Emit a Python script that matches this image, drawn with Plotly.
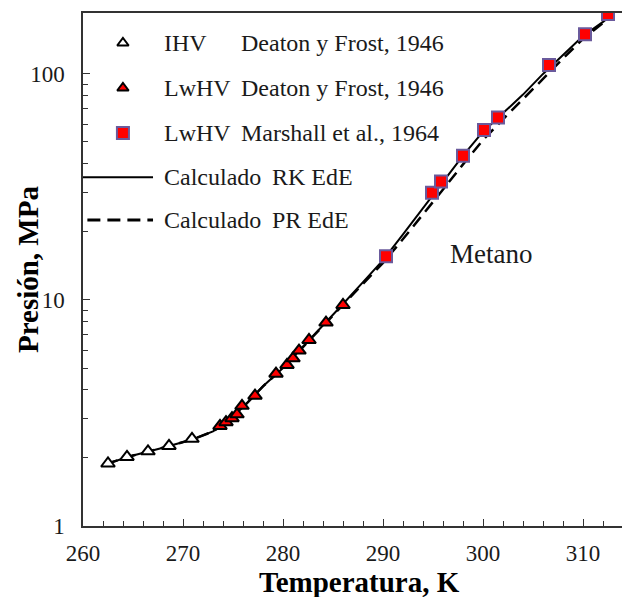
import plotly.graph_objects as go

# ---- data ----
ihv_T = [262.5, 264.4, 266.5, 268.6, 270.9]
ihv_P = [1.89, 2.02, 2.14, 2.26, 2.43]

lwhv_df_T = [273.7, 274.3, 274.9, 275.4, 275.9, 277.2, 279.3, 280.4, 281.0, 281.6, 282.6, 284.3, 286.0]
lwhv_df_P = [2.77, 2.88, 3.00, 3.12, 3.40, 3.77, 4.72, 5.16, 5.52, 5.97, 6.65, 7.94, 9.5]

lwhv_m_T = [290.3, 294.9, 295.8, 298.0, 300.1, 301.5, 306.6, 310.2, 312.5]
lwhv_m_P = [15.6, 29.8, 33.4, 43.5, 56.5, 64.1, 109.6, 149.9, 184.0]

rk_T = [262.3, 265, 268, 271, 273, 274, 276, 278, 280, 282, 284, 286, 288, 290, 292, 294, 296, 298, 300, 302, 304, 306, 308, 310, 312, 312.6]
rk_P = [1.88, 2.05, 2.22, 2.42, 2.62, 2.80, 3.35, 4.15, 5.0, 6.2, 7.7, 9.6, 12.0, 15.0, 19.5, 25.5, 33.5, 43.5, 55.5, 67.0, 81.0, 100.0, 121.0, 147.0, 170.0, 178.0]

pr_T = [262.3, 265, 268, 271, 273, 274, 276, 278, 280, 282, 284, 286, 288, 290, 292, 294, 296, 298, 300, 302, 304, 306, 308, 310, 312, 312.6]
pr_P = [1.88, 2.05, 2.22, 2.42, 2.62, 2.80, 3.35, 4.15, 5.0, 6.2, 7.7, 9.5, 11.8, 14.6, 18.6, 23.8, 30.8, 39.8, 51.0, 63.0, 77.0, 95.0, 117.0, 143.0, 168.0, 176.0]

x_ticks = [260, 270, 280, 290, 300, 310]
x_minor = [262, 264, 266, 268, 272, 274, 276, 278, 282, 284, 286, 288,
           292, 294, 296, 298, 302, 304, 306, 308, 312, 314]
y_ticks = [1, 10, 100]
y_minor = [2, 3, 4, 5, 6, 7, 8, 9, 20, 30, 40, 50, 60, 70, 80, 90]

legend_rows = [
    ("IHV", "Deaton y Frost, 1946"),
    ("LwHV", "Deaton y Frost, 1946"),
    ("LwHV", "Marshall et al., 1964"),
    ("Calculado", "RK EdE"),
    ("Calculado", "PR EdE"),
]

FONT = "Liberation Serif"
RED = "#FF0000"
SQ_EDGE = "#6A5A9C"
TXT = "#1a1a1a"

fig = go.Figure()

fig.add_trace(go.Scatter(x=rk_T, y=rk_P, mode="lines",
                         line=dict(color="black", width=2), showlegend=False))
fig.add_trace(go.Scatter(x=pr_T, y=pr_P, mode="lines",
                         line=dict(color="black", width=2.5, dash="12px,7px"), showlegend=False))
fig.add_trace(go.Scatter(x=ihv_T, y=ihv_P, mode="markers",
                         marker=dict(symbol="triangle-up", size=12, color="white",
                                     line=dict(color="black", width=2)), showlegend=False))
fig.add_trace(go.Scatter(x=lwhv_df_T, y=lwhv_df_P, mode="markers",
                         marker=dict(symbol="triangle-up", size=12, color=RED,
                                     line=dict(color="black", width=2)), showlegend=False))
fig.add_trace(go.Scatter(x=lwhv_m_T, y=lwhv_m_P, mode="markers",
                         marker=dict(symbol="square", size=12, color=RED,
                                     line=dict(color=SQ_EDGE, width=2)), showlegend=False))

# ---- manual legend on an overlay axis (plot-fraction coordinates) ----
row_y = [0.9415, 0.8538, 0.766, 0.680, 0.5965]
mk_x = 0.073
fig.add_trace(go.Scatter(x=[mk_x], y=[row_y[0]], xaxis="x2", yaxis="y2", mode="markers",
                         marker=dict(symbol="triangle-up", size=10, color="white",
                                     line=dict(color="black", width=2)), showlegend=False))
fig.add_trace(go.Scatter(x=[mk_x], y=[row_y[1]], xaxis="x2", yaxis="y2", mode="markers",
                         marker=dict(symbol="triangle-up", size=10, color=RED,
                                     line=dict(color="black", width=2)), showlegend=False))
fig.add_trace(go.Scatter(x=[mk_x], y=[row_y[2]], xaxis="x2", yaxis="y2", mode="markers",
                         marker=dict(symbol="square", size=12, color=RED,
                                     line=dict(color=SQ_EDGE, width=2)), showlegend=False))
fig.add_trace(go.Scatter(x=[0.0, 0.128], y=[row_y[3], row_y[3]], xaxis="x2", yaxis="y2", mode="lines",
                         line=dict(color="black", width=2), showlegend=False))
fig.add_trace(go.Scatter(x=[0.008, 0.128], y=[row_y[4], row_y[4]], xaxis="x2", yaxis="y2", mode="lines",
                         line=dict(color="black", width=3, dash="13px,7px"), showlegend=False))

annotations = []
for i, (a, b) in enumerate(legend_rows):
    xa = 0.1444
    xb = 0.285 if i < 3 else 0.342
    annotations.append(dict(x=xa, y=row_y[i], xref="paper", yref="paper", text=a,
                            showarrow=False, xanchor="left", yanchor="middle",
                            font=dict(family=FONT, size=24, color=TXT)))
    annotations.append(dict(x=xb, y=row_y[i], xref="paper", yref="paper", text=b,
                            showarrow=False, xanchor="left", yanchor="middle",
                            font=dict(family=FONT, size=24, color=TXT)))
annotations.append(dict(x=0.667, y=0.53, xref="paper", yref="paper", text="Metano",
                        showarrow=False, xanchor="left", yanchor="middle",
                        font=dict(family=FONT, size=27, color=TXT)))
# axis titles
annotations.append(dict(x=0.506, y=-0.11, xref="paper", yref="paper",
                        text="<b>Temperatura, K</b>", showarrow=False,
                        xanchor="center", yanchor="middle",
                        font=dict(family=FONT, size=29, color="black")))
annotations.append(dict(x=-0.1005, y=0.499, xref="paper", yref="paper",
                        text="<b>Presión, MPa</b>", showarrow=False, textangle=-90,
                        xanchor="center", yanchor="middle",
                        font=dict(family=FONT, size=29, color="black")))

# page body has an 8px default margin; size the figure so it fills the window
fig.update_layout(
    width=622, height=589,
    margin=dict(l=75, r=0, t=5, b=71, autoexpand=False),
    paper_bgcolor="white", plot_bgcolor="white",
    font=dict(family=FONT, color="black"),
    annotations=annotations,
    xaxis=dict(range=[260, 314.7], tickvals=x_ticks, ticks="inside", ticklen=7,
               tickwidth=1, tickcolor="#333", showgrid=False, zeroline=False,
               showline=True, linecolor="#333", linewidth=1.5, mirror=True,
               automargin=False, ticklabelstandoff=6,
               tickfont=dict(family=FONT, size=23, color=TXT),
               minor=dict(tickvals=x_minor, ticks="inside",
                          ticklen=5, tickcolor="#333", showgrid=False)),
    yaxis=dict(type="log", range=[0, 2.2695], tickvals=y_ticks, ticktext=["1", "10", "100"],
               ticks="inside", ticklen=7, tickwidth=1, tickcolor="#333",
               showgrid=False, zeroline=False, showline=True, linecolor="#333", linewidth=1.5,
               automargin=False, ticklabelstandoff=12,
               tickfont=dict(family=FONT, size=23, color=TXT),
               minor=dict(tickvals=y_minor, ticks="inside", ticklen=5, tickcolor="#333", showgrid=False)),
    xaxis2=dict(overlaying="x", range=[0, 1], visible=False, fixedrange=True),
    yaxis2=dict(overlaying="y", range=[0, 1], visible=False, fixedrange=True),
)

fig.write_html("out.html")
